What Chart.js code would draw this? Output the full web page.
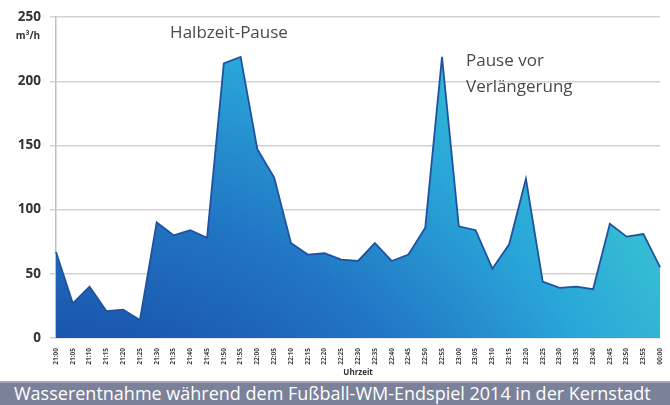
<!DOCTYPE html>
<html>
<head>
<meta charset="utf-8">
<script src="https://cdn.jsdelivr.net/npm/chart.js@4.4.1/dist/chart.umd.min.js"></script>
<style>
  html, body { margin: 0; padding: 0; background: #fff; }
  #wrap { position: relative; width: 670px; height: 405px; overflow: hidden; }
  #myChart { display: block; }
  #caption {
    position: absolute; left: 0; top: 381px; width: 670px; height: 24px;
    background: #7b8199; border-top: 2px solid #a3a8ba; box-sizing: border-box;
    color: #fff; font-family: "Open Sans", sans-serif; font-size: 18px;
    line-height: 21px; padding-left: 14px; white-space: nowrap;
  }
</style>
</head>
<body>
<div id="wrap">
  <canvas id="myChart" width="670" height="381"></canvas>
  <div id="caption">Wasserentnahme während dem Fußball-WM-Endspiel 2014 in der Kernstadt</div>
</div>
<script>
// time labels (every 5 minutes)
const times = ['21:00', '21:05', '21:10', '21:15', '21:20', '21:25', '21:30', '21:35', '21:40', '21:45',
    '21:50', '21:55', '22:00', '22:05', '22:10', '22:15', '22:20', '22:25', '22:30', '22:35',
    '22:40', '22:45', '22:50', '22:55', '23:00', '23:05', '23:10', '23:15', '23:20', '23:25',
    '23:30', '23:35', '23:40', '23:45', '23:50', '23:55', '00:00'];

// water withdrawal in m³/h
const flow = [67, 27, 40, 21, 22, 14, 90, 80, 84, 78,
    214, 219, 147, 125, 74, 65, 66, 61, 60, 74,
    60, 65, 86, 219, 87, 84, 54, 73, 124, 44,
    39, 40, 38, 89, 79, 81, 55];

const yTicks = [0, 50, 100, 150, 200, 250];

// text notes drawn on the plot
const notes = [
    { text: 'Halbzeit-Pause', x: 229, y: 33 },
    { text: 'Pause vor', x: 466, y: 61, align: 'left' },
    { text: 'Verlängerung', x: 466, y: 87, align: 'left' }
];

const textPlugin = {
    id: 'texts',
    afterDraw(chart) {
        const ctx = chart.ctx;
        ctx.save();
        ctx.fillStyle = '#333';
        ctx.font = 'bold 10px "Open Sans", sans-serif';
        ctx.textAlign = 'center';
        ctx.textBaseline = 'middle';
        ctx.fillText('m³/h', 28, 36);
        ctx.fillStyle = '#4a4a4a';
        ctx.font = '17px "Open Sans", sans-serif';
        notes.forEach(n => {
            ctx.textAlign = n.align || 'center';
            ctx.fillText(n.text, n.x, n.y);
        });
        ctx.restore();
    }
};

const ctx = document.getElementById('myChart').getContext('2d');
new Chart(ctx, {
    type: 'line',
    data: {
        labels: times,
        datasets: [
            {
                data: flow,
                fill: 'origin',
                borderColor: '#1f52a0',
                borderWidth: 1.8,
                pointRadius: 0,
                tension: 0,
                backgroundColor: function (context) {
                    const area = context.chart.chartArea;
                    if (!area) return '#2a8fd0';
                    // radial gradient from below the bottom-left corner: dark blue -> cyan
                    const cx = area.left, cy = area.bottom + 300;
                    const g = context.chart.ctx.createRadialGradient(cx, cy, 300, cx, cy, 720);
                    g.addColorStop(0, '#1a56ad');
                    g.addColorStop(0.35, '#2276c4');
                    g.addColorStop(0.72, '#29a6d8');
                    g.addColorStop(1, '#36bfd2');
                    return g;
                }
            }
        ]
    },
    options: {
        responsive: false,
        devicePixelRatio: 1,
        animation: false,
        layout: { padding: { top: 17, right: 2, left: 0, bottom: 0 } },
        scales: {
            y: {
                min: 0,
                max: 250,
                afterBuildTicks: function (scale) {
                    scale.ticks = yTicks.map(v => ({ value: v }));
                },
                afterFit: function (scale) {
                    scale.width = 56;
                },
                ticks: {
                    color: '#333',
                    padding: 9,
                    font: { family: '"Open Sans", sans-serif', size: 13.5, weight: 'bold' }
                },
                grid: {
                    color: '#d2d2d2',
                    lineWidth: 1.5,
                    tickLength: 6
                },
                border: { color: '#c0c0c0', width: 1.5 }
            },
            x: {
                offset: false,
                afterFit: function (scale) {
                    scale.height = 43;
                },
                grid: { display: false },
                border: { display: false },
                ticks: {
                    autoSkip: false,
                    maxRotation: 90,
                    minRotation: 90,
                    padding: 2,
                    color: '#444',
                    font: { family: '"Open Sans", sans-serif', size: 6.5, weight: 'bold' }
                },
                title: {
                    display: true,
                    text: 'Uhrzeit',
                    color: '#333',
                    padding: { top: 0, bottom: 3 },
                    font: { family: '"Open Sans", sans-serif', size: 8, weight: 'bold' }
                }
            }
        },
        plugins: {
            legend: { display: false },
            tooltip: { enabled: false }
        }
    },
    plugins: [textPlugin]
});
</script>
</body>
</html>
